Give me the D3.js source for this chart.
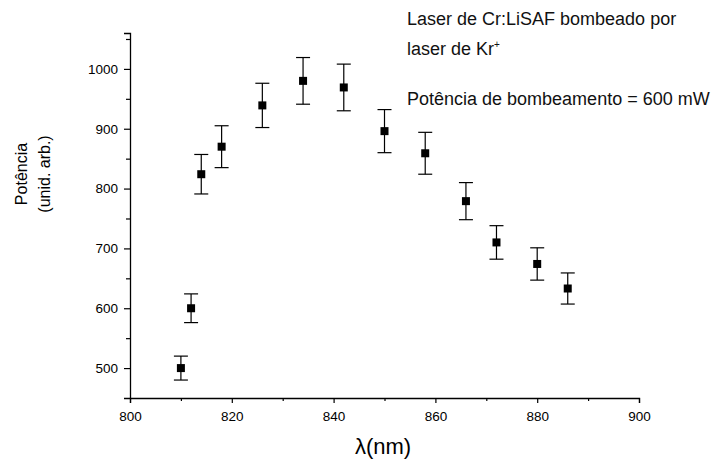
<!DOCTYPE html>
<html>
<head>
<meta charset="utf-8">
<script src="https://cdn.jsdelivr.net/npm/d3@7"></script>
<style>
  html, body { margin: 0; padding: 0; background: #fff; }
  svg { display: block; font-family: Arial, "Liberation Sans", sans-serif; }
</style>
</head>
<body>
<svg id="chart" width="713" height="465"></svg>
<script>
// Output power of the Cr:LiSAF laser versus wavelength
const wavelength = [810, 812, 814, 818, 826, 834, 842, 850, 858, 866, 872, 880, 886];
const power      = [500, 600, 824, 870, 939, 980, 969, 896, 859, 779, 710, 674, 633];
const powerError = [20, 24, 33, 35, 37, 39, 39, 36, 35, 31, 28, 27, 26];

const xTicks = [800, 820, 840, 860, 880, 900];
const xMinorTicks = [810, 830, 850, 870, 890];
const yTicks = [500, 600, 700, 800, 900, 1000];
const yMinorTicks = [550, 650, 750, 850, 950, 1050];

const noteLines = ["Laser de Cr:LiSAF bombeado por", "laser de Kr", "Potência de bombeamento = 600 mW"];

const svg = d3.select("#chart");

const x = d3.scaleLinear().domain([800, 900]).range([130, 639]);
const y = d3.scaleLinear().domain([450, 1060]).range([398, 33]);

const data = wavelength.map((w, i) => ({ w, p: power[i], e: powerError[i] }));

// Axes: major ticks labelled, minor ticks unlabelled
svg.append("g").attr("transform", `translate(0,${y(450)})`)
  .call(d3.axisBottom(x).tickValues(xTicks).tickFormat(d3.format("d")).tickSize(5).tickPadding(8));
svg.append("g").attr("transform", `translate(0,${y(450)})`)
  .call(d3.axisBottom(x).tickValues(xMinorTicks).tickFormat("").tickSize(3))
  .select(".domain").remove();

svg.append("g").attr("transform", `translate(${x(800)},0)`)
  .call(d3.axisLeft(y).tickValues(yTicks).tickFormat(d3.format("d")).tickSize(6).tickPadding(6));
svg.append("g").attr("transform", `translate(${x(800)},0)`)
  .call(d3.axisLeft(y).tickValues(yMinorTicks).tickFormat("").tickSize(4))
  .select(".domain").remove();

svg.selectAll(".domain").attr("stroke", "#000").attr("stroke-width", 1.3);
svg.selectAll(".tick line").attr("stroke", "#000").attr("stroke-width", 1.2);
svg.selectAll(".tick text").attr("fill", "#000").style("font-size", "13.5px");

// Error bars
const bars = svg.append("g").attr("stroke", "#000").attr("stroke-width", 1.2);
bars.selectAll("line.stem").data(data).join("line")
  .attr("x1", d => x(d.w)).attr("x2", d => x(d.w))
  .attr("y1", d => y(d.p + d.e)).attr("y2", d => y(d.p - d.e));
bars.selectAll("line.capTop").data(data).join("line")
  .attr("x1", d => x(d.w) - 7).attr("x2", d => x(d.w) + 7)
  .attr("y1", d => y(d.p + d.e)).attr("y2", d => y(d.p + d.e));
bars.selectAll("line.capBottom").data(data).join("line")
  .attr("x1", d => x(d.w) - 7).attr("x2", d => x(d.w) + 7)
  .attr("y1", d => y(d.p - d.e)).attr("y2", d => y(d.p - d.e));

// Square markers
svg.append("g").selectAll("rect").data(data).join("rect")
  .attr("x", d => x(d.w) - 4).attr("y", d => y(d.p) - 4)
  .attr("width", 8).attr("height", 8).attr("fill", "#000");

// Axis titles
svg.append("text").attr("x", 383).attr("y", 454).attr("text-anchor", "middle")
  .style("font-size", "22px").text("λ(nm)");

const yTitle = svg.append("text").attr("transform", "translate(0,174) rotate(-90)")
  .attr("text-anchor", "middle").style("font-size", "16px");
yTitle.append("tspan").attr("x", 0).attr("y", 27).text("Potência");
yTitle.append("tspan").attr("x", 0).attr("y", 50).text("(unid. arb.)");

// Annotation in the upper right
const note = svg.append("g").style("font-size", "18px").attr("fill", "#111");
note.append("text").attr("x", 407).attr("y", 25).text(noteLines[0]);
const kr = note.append("text").attr("x", 407).attr("y", 55).text(noteLines[1]);
kr.append("tspan").attr("dy", -7).style("font-size", "10px").text("+");
note.append("text").attr("x", 407).attr("y", 105).text(noteLines[2]);
</script>
</body>
</html>
